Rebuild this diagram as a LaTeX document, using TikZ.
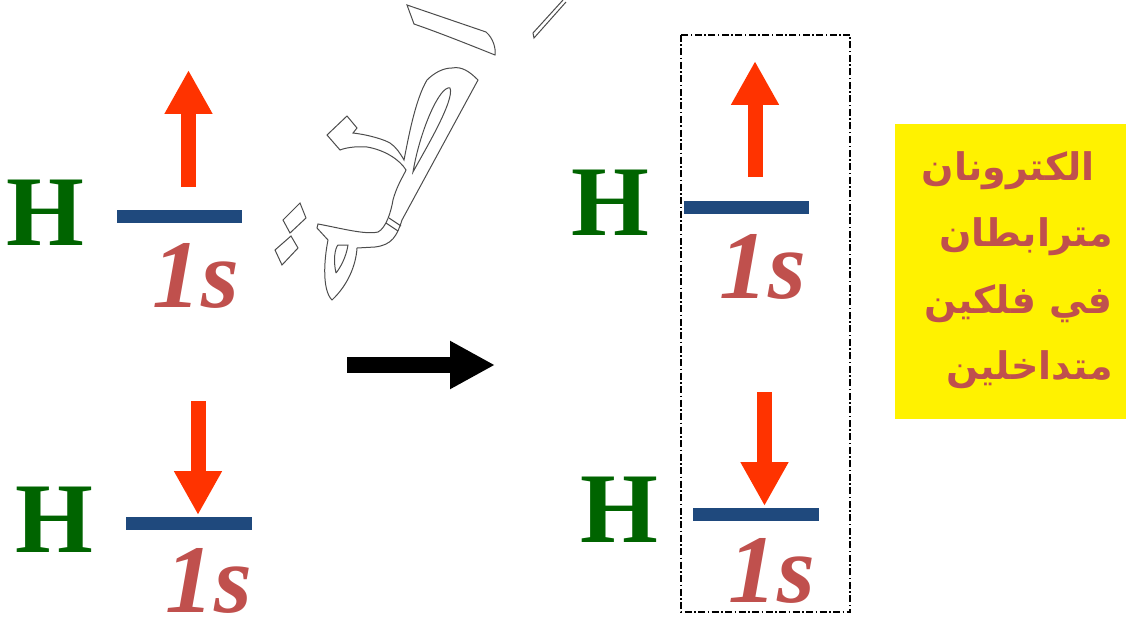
\documentclass[tikz,border=0pt]{standalone}
\usepackage{fontspec}
\setmainfont{Liberation Serif}
\newfontfamily\arabicfont[Script=Arabic]{DejaVu Sans}
\TeXXeTstate=1
\usetikzlibrary{arrows.meta}
\definecolor{hgreen}{RGB}{0,100,0}
\definecolor{spinred}{RGB}{255,51,0}
\definecolor{barblue}{RGB}{31,73,125}
\definecolor{lblred}{RGB}{192,80,77}

\begin{document}
\begin{tikzpicture}[
  x=1pt, y=-1pt,
  atom/.style = {anchor=base, inner sep=0pt, text=hgreen, font=\fontsize{100}{100}\selectfont\bfseries},
  orblabel/.style = {anchor=base, inner sep=0pt, text=lblred, font=\fontsize{97}{97}\selectfont\bfseries\itshape},
  orbbar/.style = {draw=barblue, line width=13pt},
  spin/.style = {draw=spinred, line width=15pt, -{Triangle[length=44pt, width=45pt]}},
  react/.style = {draw=black, line width=16pt, -{Triangle[length=45pt, width=45pt]}},
  note/.style = {anchor=base east, inner sep=0pt, text=lblred, font=\fontsize{38}{38}\selectfont\arabicfont\bfseries},
  wmark/.style = {draw=black!70, line width=1pt}
]
  \useasboundingbox (0,0) rectangle (1126,623);

  % watermark
  \draw[wmark] (407,5) -- (486,32) .. controls (493,38) and (496,48) .. (495,55)
    .. controls (470,45) and (440,33) .. (414,24) -- cycle;
  \draw[wmark] (563,0) -- (533,33) -- (534,38) -- (566,2);
  \draw[wmark] (452,68) .. controls (462,66) and (470,72) .. (478,80)
    -- (402,220) .. controls (397,236) and (392,245) .. (375,247) -- (357,248)
    .. controls (356,265) and (348,285) .. (332,300)
    .. controls (322,290) and (324,260) .. (328,240)
    -- (317,228) -- (318,224)
    .. controls (340,228) and (365,235) .. (378,232)
    .. controls (386,228) and (391,212) .. (393,200)
    .. controls (397,185) and (404,175) .. (406,170)
    .. controls (400,160) and (385,150) .. (367,147)
    .. controls (355,146) and (345,148) .. (340,150)
    -- (327,135) -- (347,116) -- (357,128) -- (353,133)
    .. controls (370,135) and (385,140) .. (390,143)
    .. controls (396,147) and (400,153) .. (404,160)
    .. controls (408,140) and (415,100) .. (427,80)
    .. controls (435,72) and (444,68) .. (452,68) -- cycle;
  \draw[wmark] (450,88) .. controls (440,85) and (420,130) .. (413,172)
    .. controls (425,150) and (455,100) .. (450,88);
  \draw[wmark] (336,273) .. controls (333,260) and (335,248) .. (338,245) -- (348,245)
    .. controls (346,258) and (340,268) .. (336,273);
  \draw[wmark] (389,218) -- (401,226) (386,223) -- (398,231);
  \draw[wmark] (283,220) -- (300,203) -- (306,218) -- (290,233) -- cycle;
  \draw[wmark] (275,250) -- (291,236) -- (298,248) -- (282,265) -- cycle;

  % left: two separate atoms
  \node[atom] (h1) at (45,245) {H};
  \coordinate (b1l) at (117,216);
  \coordinate (b1r) at (242,216);
  \draw[orbbar] (b1l) -- (b1r);
  \coordinate (s1a) at (188.5,187);
  \coordinate (s1b) at (188.5,70);
  \draw[spin] (s1a) -- (s1b);
  \node[orblabel] (o1) at (196,307) {1s};

  \node[atom] (h2) at (54,552) {H};
  \coordinate (b2l) at (126,523.5);
  \coordinate (b2r) at (252,523.5);
  \draw[orbbar] (b2l) -- (b2r);
  \coordinate (s2a) at (198,401);
  \coordinate (s2b) at (198,515);
  \draw[spin] (s2a) -- (s2b);
  \node[orblabel] (o2) at (209,612) {1s};

  % reaction arrow
  \coordinate (r0) at (347,365);
  \coordinate (r1) at (495,365);
  \draw[react] (r0) -- (r1);

  % right: paired electrons
  \draw[line width=1.3pt, dash pattern=on 7pt off 2.5pt on 1.5pt off 2.5pt] (681,35) rectangle (850,612);

  \node[atom] (h3) at (610,235) {H};
  \coordinate (b3l) at (684,207);
  \coordinate (b3r) at (809,207);
  \draw[orbbar] (b3l) -- (b3r);
  \coordinate (s3a) at (755,177);
  \coordinate (s3b) at (755,61);
  \draw[spin] (s3a) -- (s3b);
  \node[orblabel] (o3) at (763,298) {1s};

  \node[atom] (h4) at (619.5,542) {H};
  \coordinate (b4l) at (693,514);
  \coordinate (b4r) at (819,514);
  \draw[orbbar] (b4l) -- (b4r);
  \coordinate (s4a) at (764.5,392);
  \coordinate (s4b) at (764.5,506);
  \draw[spin] (s4a) -- (s4b);
  \node[orblabel] (o4) at (772,602) {1s};

  % note
  \fill[yellow] (895,124) rectangle (1126,419);
  \node[note] (t1) at (1095,180) {\beginR الكترونان\endR};
  \node[note] (t2) at (1113,246) {\beginR مترابطان\endR};
  \node[note] (t3) at (1113,313) {\beginR في فلكين\endR};
  \node[note] (t4) at (1113,379) {\beginR متداخلين\endR};
\end{tikzpicture}
\end{document}
